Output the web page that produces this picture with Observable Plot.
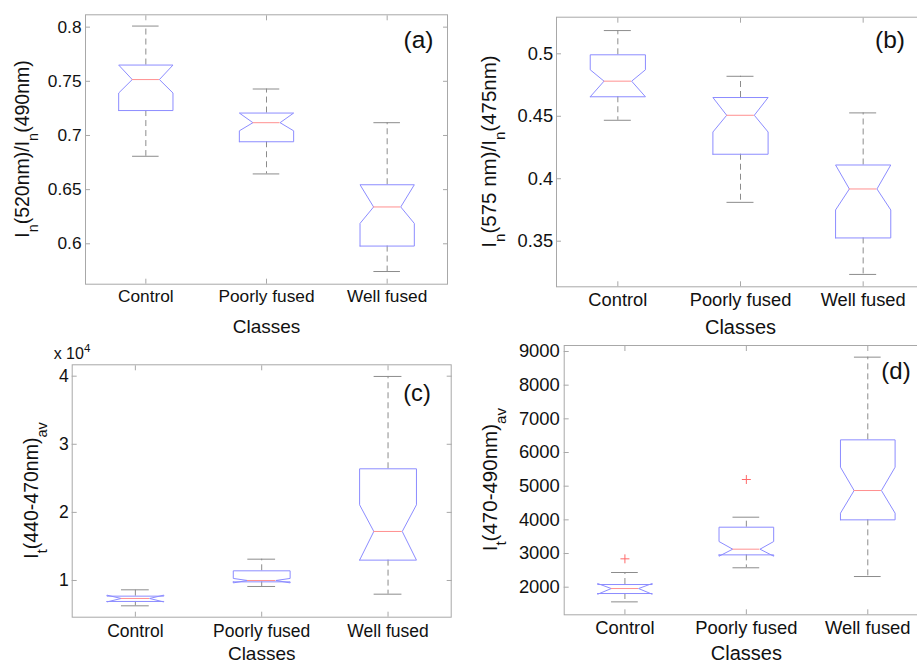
<!DOCTYPE html>
<html><head><meta charset="utf-8">
<script src="https://cdn.jsdelivr.net/npm/d3@7"></script>
<script src="https://cdn.jsdelivr.net/npm/@observablehq/plot@0.6"></script>
<style>
html,body{margin:0;padding:0;background:#fff;}
#root{position:relative;width:917px;height:664px;overflow:hidden;background:#fff;}
.panel{position:absolute;}
.panel svg{max-width:none !important;}
</style></head><body><div id="root"></div>
<script>
const classes = ["Control", "Poorly fused", "Well fused"];
const xLabel = "Classes";

// (a) In(520nm)/In(490nm)
const aLow   = [0.6808, 0.6645, 0.5744];
const aQ1    = [0.7230, 0.6942, 0.5979];
const aNLow  = [0.7392, 0.7043, 0.6188];
const aMed   = [0.7516, 0.7118, 0.6340];
const aNHigh = [0.7650, 0.7207, 0.6545];
const aQ3    = [0.7650, 0.7207, 0.6545];
const aHigh  = [0.8010, 0.7429, 0.7118];
const aTicks = [0.6, 0.65, 0.7, 0.75, 0.8];

// (b) In(575 nm)/In(475nm)
const bLow   = [0.4468, 0.3811, 0.3234];
const bQ1    = [0.4656, 0.4196, 0.3526];
const bNLow  = [0.4656, 0.4374, 0.3750];
const bMed   = [0.4781, 0.4508, 0.3918];
const bNHigh = [0.4872, 0.4650, 0.4110];
const bQ3    = [0.4992, 0.4650, 0.4110];
const bHigh  = [0.5186, 0.4820, 0.4527];
const bTicks = [0.35, 0.4, 0.45, 0.5];

// (c) It(440-470nm)av
const cLow   = [6280, 9120, 7990];
const cQ1    = [6920, 9800, 12990];
const cNLow  = [6850, 9650, 12990];
const cMed   = [7360, 10000, 17200];
const cNHigh = [7850, 10300, 21110];
const cQ3    = [7700, 11420, 26400];
const cHigh  = [8630, 13130, 39960];
const cTicks = [10000, 20000, 30000, 40000];

// (d) It(470-490nm)av
const dLow   = [1564, 2576, 2317];
const dQ1    = [1812, 2960, 4000];
const dNLow  = [1790, 2920, 4198];
const dMed   = [1960, 3129, 4871];
const dNHigh = [2110, 3356, 5564];
const dQ3    = [2079, 3782, 6376];
const dHigh  = [2436, 4079, 8832];
const dTicks = [2000, 3000, 4000, 5000, 6000, 7000, 8000, 9000];
const dOutClass = ["Control", "Poorly fused"];
const dOutValue = [2842, 5198];

const HW = 0.225, NW = 0.1125, CW = 0.11;
const FONT = "'Liberation Sans', Arial, Helvetica, sans-serif";
const BOX = "#8c8cff", MED = "#ff9090", WHISK = "#8c8c8c", FRAME = "#a8a8a8", TXT = "#111";

function rowsOf(lo, q1, nlo, med, nhi, q3, hi) {
  return classes.map((c, i) => ({x: i + 1, cls: c, lo: lo[i], q1: q1[i], nlo: nlo[i], med: med[i], nhi: nhi[i], q3: q3[i], hi: hi[i]}));
}
function outline(rows) {
  const pts = [];
  rows.forEach(r => {
    [[-HW, r.q1], [-HW, r.nlo], [-NW, r.med], [-HW, r.nhi], [-HW, r.q3],
     [HW, r.q3], [HW, r.nhi], [NW, r.med], [HW, r.nlo], [HW, r.q1], [-HW, r.q1]]
      .forEach(([dx, y]) => pts.push({k: r.x, x: r.x + dx, y}));
  });
  return pts;
}

function panel(cfg) {
  const rows = cfg.rows;
  const marks = [
    Plot.frame({stroke: FRAME}),
    Plot.axisY({ticks: cfg.yTicks, tickFormat: cfg.yFmt, anchor: "left", tickSize: -5, tickPadding: cfg.padY, stroke: FRAME, fill: TXT, label: null, fontSize: cfg.tickFont}),
    Plot.axisY({ticks: cfg.yTicks, tickFormat: () => "", anchor: "right", tickSize: -5, stroke: FRAME, label: null}),
    Plot.axisX({ticks: [1, 2, 3], tickFormat: i => classes[i - 1], anchor: "bottom", tickSize: -5, tickPadding: cfg.padX, stroke: FRAME, fill: TXT, label: null, fontSize: cfg.tickFont}),
    Plot.axisX({ticks: [1, 2, 3], tickFormat: () => "", anchor: "top", tickSize: -5, stroke: FRAME, label: null}),
    Plot.ruleX(rows, {x: "x", y1: "q3", y2: "hi", stroke: WHISK, strokeDasharray: "6,4"}),
    Plot.ruleX(rows, {x: "x", y1: "q1", y2: "lo", stroke: WHISK, strokeDasharray: "6,4"}),
    Plot.ruleY(rows, {y: "hi", x1: d => d.x - CW, x2: d => d.x + CW, stroke: WHISK}),
    Plot.ruleY(rows, {y: "lo", x1: d => d.x - CW, x2: d => d.x + CW, stroke: WHISK}),
    Plot.line(outline(rows), {x: "x", y: "y", z: "k", stroke: BOX, strokeWidth: 1}),
    Plot.ruleY(rows, {y: "med", x1: d => d.x - NW, x2: d => d.x + NW, stroke: MED}),
    Plot.text([xLabel], {text: d => d, frameAnchor: "bottom", dy: cfg.classesDy, lineAnchor: "middle", fontSize: cfg.labelFont, fill: TXT}),
    Plot.text([cfg.tag], {text: d => d, frameAnchor: "top-right", dx: cfg.tagDx, dy: cfg.tagDy, lineAnchor: "top", textAnchor: "middle", fontSize: cfg.tagSize, fill: TXT})
  ];
  if (cfg.outliers) {
    marks.push(Plot.dot(cfg.outliers, {x: d => classes.indexOf(d.cls) + 1, y: "v", symbol: "plus", r: 3, stroke: "#ff6a6a", fill: "none", strokeWidth: 1}));
  }
  const svg = Plot.plot({
    width: cfg.width, height: cfg.height,
    marginLeft: cfg.mL, marginRight: cfg.mR, marginTop: cfg.mT, marginBottom: cfg.mB,
    x: {type: "linear", domain: [0.5, 3.5]},
    y: {domain: cfg.yDomain},
    style: {fontFamily: FONT, background: "transparent", color: TXT, overflow: "visible"},
    marks
  });
  const fy = cfg.mT + (cfg.height - cfg.mT - cfg.mB) / 2;
  const t = d3.select(svg).append("text")
    .attr("transform", `translate(${cfg.ylabelX},${fy}) rotate(-90)`)
    .attr("text-anchor", "middle")
    .attr("font-family", FONT)
    .attr("font-size", cfg.ylabelSize)
    .attr("fill", TXT);
  let shifted = 0;
  const sh = Math.round(cfg.ylabelSize * 0.45);
  cfg.ylabel.forEach(([s, sub]) => {
    const ts = t.append("tspan").text(s);
    if (sub) { ts.attr("font-size", cfg.ylabelSize * 0.74).attr("dy", sh - shifted); shifted = sh; }
    else { ts.attr("dy", -shifted); shifted = 0; }
  });
  if (cfg.exponent) {
    const e = d3.select(svg).append("text")
      .attr("x", cfg.exponent.x).attr("y", cfg.exponent.y)
      .attr("font-family", FONT).attr("font-size", 16).attr("fill", TXT);
    e.append("tspan").text(cfg.exponent.base);
    e.append("tspan").text(cfg.exponent.power).attr("font-size", 11.5).attr("dy", -7);
  }
  const div = document.createElement("div");
  div.className = "panel";
  div.style.left = cfg.left + "px";
  div.style.top = cfg.top + "px";
  div.style.width = cfg.width + "px";
  div.style.height = cfg.height + "px";
  div.appendChild(svg);
  document.getElementById("root").appendChild(div);
}

const fmtPlain = d => String(d);

panel({
  left: 0, top: 0, width: 460, height: 340, mL: 85, mR: 13, mT: 14.3, mB: 56.3,
  yDomain: [0.5627, 0.8114], yTicks: aTicks, yFmt: fmtPlain,
  rows: rowsOf(aLow, aQ1, aNLow, aMed, aNHigh, aQ3, aHigh),
  tickFont: 17.3, labelFont: 19, padY: 9, padX: 10.9, classesDy: 43.2,
  tag: "(a)", tagDx: -29, tagDy: 15.3, tagSize: 24.5,
  ylabel: [["I"], ["n", 1], ["(520nm)/I"], ["n", 1], ["(490nm)"]], ylabelX: 28.5, ylabelSize: 19.5
});
panel({
  left: 455, top: 0, width: 480, height: 340, mL: 101, mR: 11, mT: 16.7, mB: 53.7,
  yDomain: [0.3135, 0.5293], yTicks: bTicks, yFmt: fmtPlain,
  rows: rowsOf(bLow, bQ1, bNLow, bMed, bNHigh, bQ3, bHigh),
  tickFont: 18.3, labelFont: 20, padY: 8.3, padX: 11.6, classesDy: 40.3,
  tag: "(b)", tagDx: -34.5, tagDy: 12.9, tagSize: 24.5,
  ylabel: [["I"], ["n", 1], ["(575 nm)/I"], ["n", 1], ["(475nm)"]], ylabelX: 41, ylabelSize: 20.5
});
panel({
  left: 0, top: 330, width: 460, height: 334, mL: 71.7, mR: 9.3, mT: 34.3, mB: 47.3,
  yDomain: [4610, 41670], yTicks: cTicks, yFmt: d => String(d / 10000),
  rows: rowsOf(cLow, cQ1, cNLow, cMed, cNHigh, cQ3, cHigh),
  tickFont: 17.5, labelFont: 19, padY: 8.4, padX: 11.9, classesDy: 36.8,
  tag: "(c)", tagDx: -34.2, tagDy: 19.4, tagSize: 23.7,
  ylabel: [["I"], ["t", 1], ["(440-470nm)"], ["av", 1]], ylabelX: 38, ylabelSize: 19.5,
  exponent: {x: 72, y: 29, base: "x 10", power: "4"}
});
panel({
  left: 455, top: 330, width: 480, height: 334, mL: 108.7, mR: 7, mT: 15, mB: 49.7,
  yDomain: [1180, 9178], yTicks: dTicks, yFmt: fmtPlain,
  rows: rowsOf(dLow, dQ1, dNLow, dMed, dNHigh, dQ3, dHigh),
  outliers: dOutClass.map((c, i) => ({cls: c, v: dOutValue[i]})),
  tickFont: 18.4, labelFont: 20, padY: 9.4, padX: 11.6, classesDy: 38.8,
  tag: "(d)", tagDx: -32.5, tagDy: 16.5, tagSize: 24,
  ylabel: [["I"], ["t", 1], ["(470-490nm)"], ["av", 1]], ylabelX: 42, ylabelSize: 20.5
});
</script>
</body></html>
